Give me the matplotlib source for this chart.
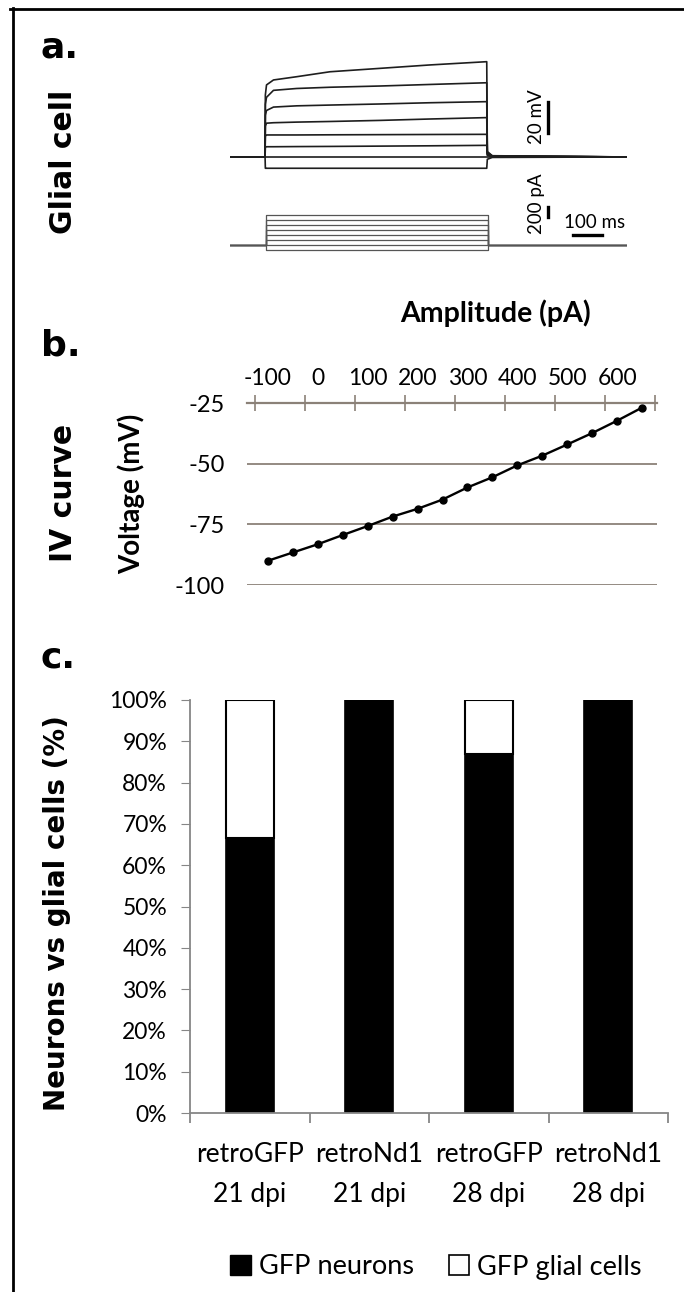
import matplotlib
matplotlib.use('Agg')
import matplotlib.pyplot as plt
from matplotlib.lines import Line2D
from matplotlib.patches import Patch

plt.rcParams['font.family'] = ['Lato', 'DejaVu Sans']
plt.rcParams['axes.unicode_minus'] = False

W, H = 684, 1292

# ---- panel a: whole-cell recording of a glial cell ----
# knot times (ms) of the voltage responses
trace_t = [0, 121, 122, 126, 150, 230, 345, 518, 690, 886, 888, 905, 1370]
# membrane voltage (mV) at those times, one row per current step
traces_mv = [
    [-83, -83, -90.3, -90.3, -90.3, -90.3, -90.3, -90.3, -90.3, -90.3, -84.5, -83.3, -83],
    [-83, -83, -83.0, -83.0, -83.0, -83.0, -83.0, -83.0, -83.0, -83.0, -83.0, -83.0, -83],
    [-83, -83, -76.8, -76.4, -76.4, -76.3, -76.2, -76.0, -75.8, -75.5, -82.0, -82.8, -83],
    [-83, -83, -69.5, -68.8, -68.8, -68.8, -68.7, -68.6, -68.5, -68.4, -81.5, -82.6, -83],
    [-83, -83, -63.0, -61.2, -60.9, -60.5, -60.1, -59.4, -58.5, -57.6, -81.0, -82.5, -83],
    [-83, -83, -56.0, -53.0, -50.8, -50.0, -49.5, -48.8, -48.0, -47.3, -80.5, -82.4, -83],
    [-83, -83, -49.0, -44.5, -40.0, -38.8, -38.0, -37.2, -36.2, -35.1, -80.0, -82.3, -83],
    [-83, -83, -43.0, -36.5, -33.3, -31.2, -28.0, -25.8, -23.6, -21.5, -79.5, -82.2, -83],
]
inj_t = [0, 123, 123, 889, 889, 1370]
inj_pa = [-100, 0, 100, 200, 300, 400, 500, 600]

# ---- panel b: IV curve ----
amp_pa = [-100, -50, 0, 50, 100, 150, 200, 250, 300, 350, 400, 450, 500, 550, 600, 650]
volt_mv = [-90.0, -86.6, -83.2, -79.4, -75.7, -71.8, -68.6, -64.8,
           -59.8, -55.6, -50.7, -46.7, -42.1, -37.4, -32.3, -26.9]

# ---- panel c: neurons vs glial cells ----
groups = ['retroGFP\n21 dpi', 'retroNd1\n21 dpi', 'retroGFP\n28 dpi', 'retroNd1\n28 dpi']
neurons = [66.7, 100, 87, 100]
glia = [33.3, 0, 13, 0]

fig = plt.figure(figsize=(W / 100, H / 100), dpi=100)


def box(x0, y0, x1, y1):
    return fig.add_axes([x0 / W, 1 - y1 / H, (x1 - x0) / W, (y1 - y0) / H])


def ftext(x, y, s, **kw):
    fig.text(x / W, 1 - y / H, s, **kw)


# frame
fig.add_artist(Line2D([10 / W, 1], [1 - 9 / H, 1 - 9 / H], color='k', lw=2))
fig.add_artist(Line2D([12.5 / W, 12.5 / W], [1 - 8 / H, 0], color='k', lw=2))

# panel labels
bold = dict(family='DejaVu Sans', fontweight='bold')
ftext(41, 58, 'a.', fontsize=26, va='baseline', **bold)
ftext(41, 355, 'b.', fontsize=26, va='baseline', **bold)
ftext(41, 667, 'c.', fontsize=26, va='baseline', **bold)
ftext(63, 162, 'Glial cell', fontsize=21.5, rotation=90, ha='center', va='center', **bold)
ftext(63, 493, 'IV curve', fontsize=21.5, rotation=90, ha='center', va='center', **bold)
ftext(57, 913, 'Neurons vs glial cells (%)', fontsize=20, rotation=90,
      ha='center', va='center', **bold)

# ---- a ----
ax_v = box(230, 40, 627, 185)
ax_v.set_xlim(0, 1370)
ax_v.set_ylim(-101.1, -7.5)
ax_v.axis('off')
for tr in traces_mv:
    ax_v.plot(trace_t, tr, color='#1e1e1e', lw=1.2)
ax_v.plot([1097, 1097], [-67.5, -47.5], color='k', lw=2.4, clip_on=False)
ax_v.text(1059, -57, '20 mV', rotation=90, ha='center', va='center', fontsize=13.5)

ax_i = box(230, 195, 627, 260)
ax_i.set_xlim(0, 1370)
ax_i.set_ylim(-300, 1000)
ax_i.axis('off')
for lvl in inj_pa:
    ax_i.plot(inj_t, [0, 0, lvl, lvl, 0, 0], color='#555555', lw=0.9)
ax_i.plot([1097, 1097], [560, 760], color='k', lw=2.4, clip_on=False)
ax_i.plot([1183, 1283], [200, 200], color='k', lw=2.4, clip_on=False)
ax_i.text(1059, 820, '200 pA', rotation=90, ha='center', va='center', fontsize=13.5)
ax_i.text(1257, 440, '100 ms', ha='center', va='center', fontsize=13.5)

# ---- b ----
gcol = '#8b8178'
ax_b = box(247, 403, 657, 585)
ax_b.set_xlim(-142, 680)
ax_b.set_ylim(-100, -25)
for v in [-100, -75, -50]:
    ax_b.axhline(v, color=gcol, lw=1.3, zorder=1)
ax_b.plot(amp_pa, volt_mv, 'o-', color='k', lw=1.7, ms=5, zorder=3, clip_on=False)
for s in ['left', 'right', 'bottom']:
    ax_b.spines[s].set_visible(False)
ax_b.spines['top'].set_color(gcol)
ax_b.spines['top'].set_linewidth(1.6)
ax_b.xaxis.tick_top()
ax_b.set_xticks(range(-100, 601, 100))
ax_b.set_xticks(range(-125, 676, 100), minor=True)
ax_b.tick_params(axis='x', which='major', length=0, pad=10, labelsize=16.5)
ax_b.tick_params(axis='x', which='minor', length=11, direction='inout', color=gcol, width=1.2)
ax_b.set_yticks([-100, -75, -50, -25])
ax_b.tick_params(axis='y', length=0, pad=16, labelsize=17)
ftext(495, 313, 'Amplitude (pA)', fontsize=20.5, fontweight='bold', ha='center', va='center')
ftext(131, 494, 'Voltage (mV)', fontsize=20, fontweight='bold', rotation=90,
      ha='center', va='center')

# ---- c ----
acol = '#868686'
ax_c = box(190, 700, 668, 1113)
x = range(len(groups))
ax_c.bar(x, neurons, width=0.4, color='k', edgecolor='k', lw=1.2)
ax_c.bar(x, glia, width=0.4, bottom=neurons, color='w', edgecolor='k', lw=1.5)
ax_c.set_xlim(-0.5, 3.5)
ax_c.set_ylim(0, 100)
ax_c.spines['top'].set_visible(False)
ax_c.spines['right'].set_visible(False)
for s in ['left', 'bottom']:
    ax_c.spines[s].set_color(acol)
    ax_c.spines[s].set_linewidth(1.3)
ax_c.set_yticks(range(0, 101, 10))
ax_c.set_yticklabels([f'{v}%' for v in range(0, 101, 10)])
ax_c.tick_params(axis='y', length=6.5, color=acol, pad=10, labelsize=16.5)
ax_c.set_xticks(list(x))
ax_c.set_xticklabels(groups, linespacing=1.75)
ax_c.set_xticks([-0.5, 0.5, 1.5, 2.5, 3.5], minor=True)
ax_c.tick_params(axis='x', which='major', length=0, pad=21, labelsize=19)
ax_c.tick_params(axis='x', which='minor', length=7, color=acol, width=1.3)

fig.legend(handles=[Patch(fc='k', ec='k'), Patch(fc='w', ec='k', lw=1.2)],
           labels=['GFP neurons', 'GFP glial cells'],
           loc='center', bbox_to_anchor=(436 / W, 1 - 1267 / H), ncol=2, frameon=False,
           handlelength=0.75, handleheight=0.75, handletextpad=0.3, columnspacing=1.3,
           fontsize=19.5)

fig.savefig('out.png', dpi=100)
